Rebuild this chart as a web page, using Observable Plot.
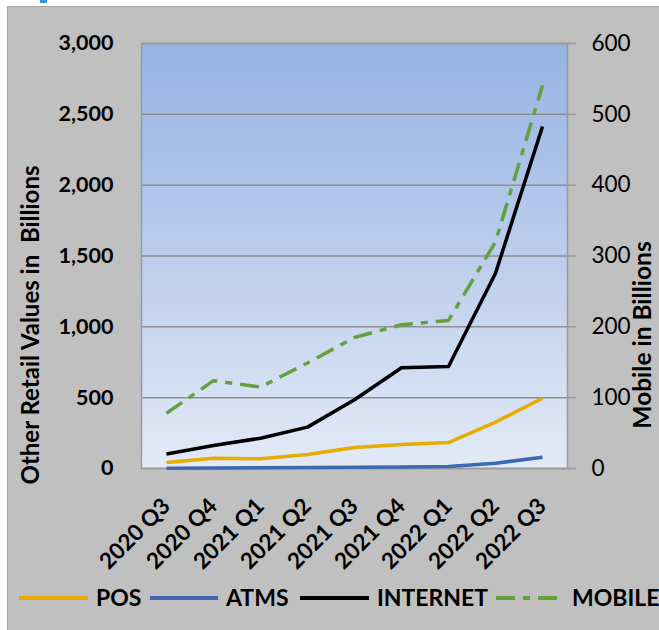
<!DOCTYPE html>
<html>
<head>
<meta charset="utf-8">
<script src="https://cdn.jsdelivr.net/npm/d3@7"></script>
<script src="https://cdn.jsdelivr.net/npm/@observablehq/plot@0.6"></script>
<style>
  html, body { margin: 0; padding: 0; background: #ffffff; }
  body { width: 659px; height: 630px; overflow: hidden; position: relative; font-family: Lato, "Open Sans", sans-serif; }
  #panel { position: absolute; left: 7px; top: 6px; width: 660px; height: 630px; background: #c0c0c0;
           border-left: 1.5px solid #a4a4a4; border-top: 1.5px solid #a4a4a4; box-sizing: border-box; }
  #corner { position: absolute; left: 40px; top: 0; width: 7px; height: 3px; background: #3d8fd8; }
  #chart { position: absolute; left: 0; top: 0; }
  #legend { position: absolute; left: 0; top: 584px; width: 659px; height: 28px;
            white-space: nowrap; font: bold 23px Lato, sans-serif; color: #000; }
  .sw { position: absolute; top: 9px; }
  .lab { position: absolute; top: -1px; line-height: 28px; }
</style>
</head>
<body>
<div id="panel"></div>
<div id="corner"></div>
<div id="chart"></div>
<div id="legend"></div>
<script>
const quarters = ["2020 Q3", "2020 Q4", "2021 Q1", "2021 Q2", "2021 Q3", "2021 Q4", "2022 Q1", "2022 Q2", "2022 Q3"];
const pos      = [42, 73, 68, 99, 148, 169, 183, 327, 496];
const atms     = [2, 4, 5, 7, 8, 10, 14, 37, 80];
const internet = [103, 162, 214, 292, 485, 711, 720, 1378, 2414];
const mobile   = [78, 124, 115, 149, 185, 203, 209, 320, 541];   // right axis
const leftTicks  = [0, 500, 1000, 1500, 2000, 2500, 3000];
const rightTicks = [0, 100, 200, 300, 400, 500, 600];
const seriesNames  = ["POS", "ATMS", "INTERNET", "MOBILE"];
const seriesColors = ["#E8AB00", "#3F67B2", "#000000", "#64A03E"];
const leftTitle  = "Other Retail Values in  Billions";
const rightTitle = "Mobile in Billions";

// right axis (0–600) maps onto left axis (0–3000)
const ratio = leftTicks[leftTicks.length - 1] / rightTicks[rightTicks.length - 1];
const valuesBySeries = { POS: pos, ATMS: atms, INTERNET: internet, MOBILE: mobile.map(v => v * ratio) };
const rows = seriesNames.flatMap(name => quarters.map((q, i) => ({ series: name, quarter: q, value: valuesBySeries[name][i] })));

const gradientDefs = () => {
  const defs = d3.create("svg:defs");
  const g = defs.append("linearGradient").attr("id", "plotbg").attr("x1", 0).attr("y1", 0).attr("x2", 0).attr("y2", 1);
  g.append("stop").attr("offset", "0%").attr("stop-color", "#95B3E4");
  g.append("stop").attr("offset", "50%").attr("stop-color", "#BBCDEC");
  g.append("stop").attr("offset", "100%").attr("stop-color", "#E3EAF6");
  return defs.node();
};

const lineMarks = seriesNames.map((name, k) => Plot.line(rows.filter(d => d.series === name), {
  x: "quarter", y: "value", stroke: seriesColors[k], strokeWidth: 3.5,
  strokeDasharray: name === "MOBILE" ? "19,8,7,8" : null, strokeLinejoin: "round", strokeLinecap: "butt"
}));

const chart = Plot.plot({
  width: 659,
  height: 580,
  marginLeft: 141,
  marginRight: 92,
  marginTop: 43,
  marginBottom: 112,
  style: { background: "transparent", color: "#000", fontFamily: "Lato, sans-serif", overflow: "visible" },
  x: { type: "point", domain: quarters, padding: 0.5, label: null },
  y: { domain: [0, 3000], label: null },
  marks: [
    gradientDefs,
    Plot.frame({ fill: "url(#plotbg)" }),
    Plot.gridY(leftTicks, { stroke: "#8E8E8E", strokeOpacity: 1, strokeWidth: 1.5 }),
    Plot.frame({ stroke: "#9A9A9A", strokeWidth: 1.5 }),
    ...lineMarks,
    Plot.axisY(leftTicks, { anchor: "left", tickSize: 0, tickPadding: 28, tickFormat: d3.format(","),
      fontSize: 21.5, fontWeight: "bold", label: null }),
    Plot.axisY(rightTicks.map(v => v * ratio), { anchor: "right", tickSize: 8, tickPadding: 16,
      tickFormat: d => d / ratio, stroke: "#9A9A9A", strokeWidth: 1.5, fontSize: 22.5, label: null }),
    Plot.axisX({ tickRotate: -45, tickSize: 0, tickPadding: 34, fontSize: 22.5, fontWeight: "bold", label: null })
  ]
});

const svg = d3.select(chart);
svg.append("text")
  .attr("transform", "translate(39,325) rotate(-90)")
  .attr("text-anchor", "middle")
  .style("white-space", "pre")
  .attr("font-size", 24).attr("font-weight", "bold").attr("fill", "#000")
  .text(leftTitle);
svg.append("text")
  .attr("transform", "translate(651,335) rotate(-90)")
  .attr("text-anchor", "middle")
  .attr("font-size", 24.5).attr("font-weight", "bold").attr("fill", "#000")
  .text(rightTitle);

document.getElementById("chart").appendChild(chart);

// legend item positions (swatch start, text start) as laid out in the source
const legendSwatchX = [19, 150, 300, 496];
const legendTextX   = [96, 226, 377, 572];
const legend = document.getElementById("legend");
seriesNames.forEach((name, k) => {
  const w = legendTextX[k] - legendSwatchX[k] - (name === "MOBILE" ? 12 : 8);
  const dash = name === "MOBILE" ? ' stroke-dasharray="19,8,7,8"' : "";
  legend.insertAdjacentHTML("beforeend",
    `<svg class="sw" style="left:${legendSwatchX[k]}px" width="${w}" height="10"><line x1="0" y1="5" x2="${w}" y2="5" stroke="${seriesColors[k]}" stroke-width="4"${dash}/></svg>` +
    `<span class="lab" style="left:${legendTextX[k]}px">${name}</span>`);
});
</script>
</body>
</html>
